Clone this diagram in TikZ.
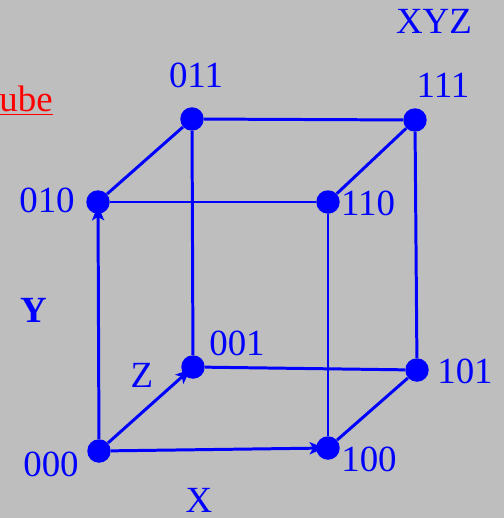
\documentclass[tikz,border=0pt]{standalone}
\usepackage{fontspec}
\setmainfont{Liberation Serif}
\usepackage{xcolor}
\usepackage{tikz}
\usetikzlibrary{arrows.meta, positioning}

\definecolor{bggray}{RGB}{190,190,190}

\begin{document}
\begin{tikzpicture}[
    x=0.02cm, y=-0.02cm,
    vertex/.style={circle, fill=blue, inner sep=0pt, minimum size=0.47cm},
    lbl/.style={text=blue, inner sep=0pt, font=\fontsize{21}{24}\selectfont},
    edge/.style={draw=blue, line width=1.7pt},
    arrow/.style={edge, -{Stealth[length=0.3cm, width=0.24cm, inset=0.07cm]}, shorten >=-5pt}
]

% Background
\fill[bggray] (0,0) rectangle (504,518);
\useasboundingbox (0,0) rectangle (504,518);

% Front face
\node[vertex] (v000) at (99,451) {};
\node[vertex] (v100) at (328,448) {};
\node[vertex] (v010) at (98,202) {};
\node[vertex] (v110) at (328,202) {};

% Back face
\node[vertex] (v001) at (193,367) {};
\node[vertex] (v101) at (417,370) {};
\node[vertex] (v011) at (192,119) {};
\node[vertex] (v111) at (415,120) {};

% Vertex labels
\node[lbl] (l000) at (51,464) {000};
\node[lbl] (l100) at (369,459) {100};
\node[lbl] (l010) at (47,200) {010};
\node[lbl] (l110) at (368,203) {110};
\node[lbl] (l001) at (237,343) {001};
\node[lbl] (l101) at (465,371) {101};
\node[lbl] (l011) at (196,75) {011};
\node[lbl] (l111) at (443,85) {111};

% Axis labels
\node[lbl] (xyz) at (434,21) {XYZ};
\node[lbl] (xax) at (199,500) {X};
\node[lbl, font=\fontsize{21}{24}\selectfont\bfseries] (yax) at (34,310) {Y};
\node[lbl] (zax) at (142,375) {Z};
\node[lbl, text=red, anchor=east] (title) at (53,101) {\underline{ube}};

% Axes
\draw[arrow] (v000) -- (v100);
\draw[arrow] (v000) -- (v010);
\draw[arrow] (v000) -- (v001);

% Edges
\draw[edge] (v100) -- (v110);
\draw[edge] (v100) -- (v101);
\draw[edge] (v001) -- (v101);
\draw[edge] (v001) -- (v011);
\draw[edge] (v010) -- (v110);
\draw[edge] (v010) -- (v011);
\draw[edge] (v110) -- (v111);
\draw[edge] (v011) -- (v111);
\draw[edge] (v101) -- (v111);

\end{tikzpicture}
\end{document}
